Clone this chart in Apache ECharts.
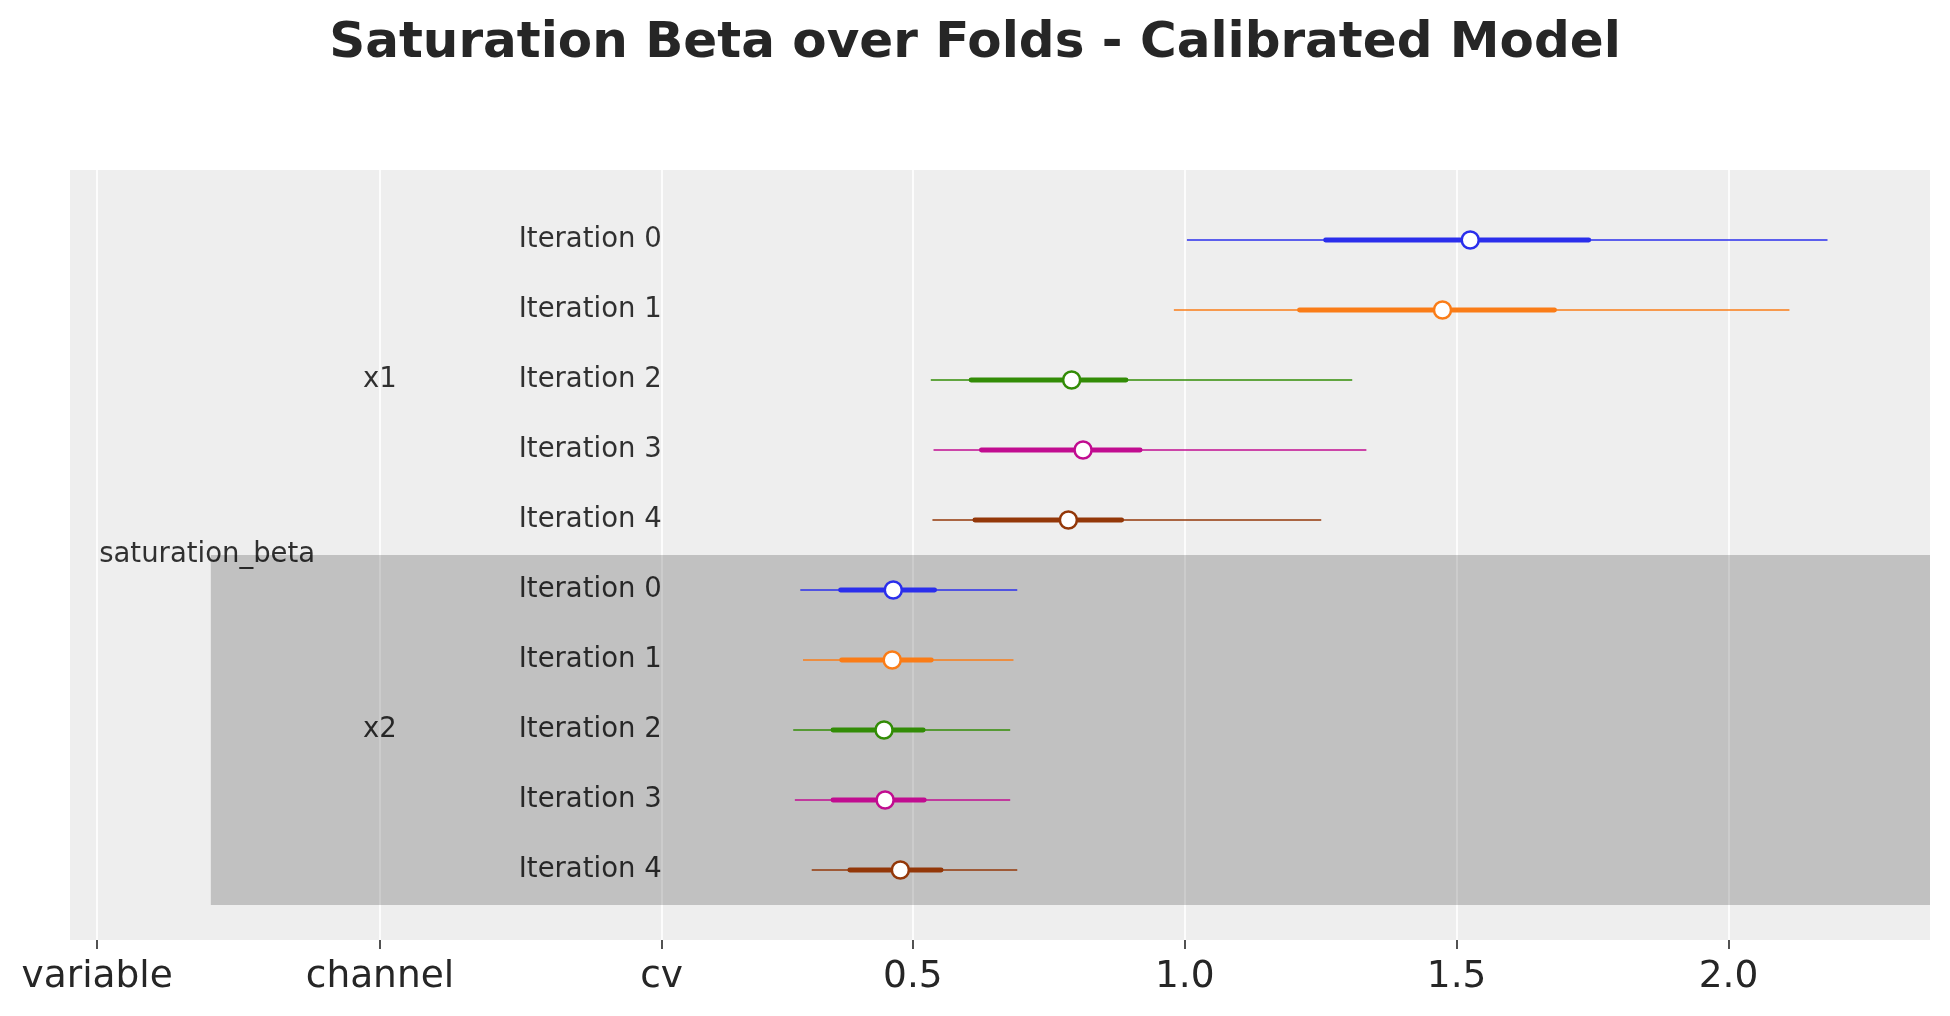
<!DOCTYPE html>
<html>
<head>
<meta charset="utf-8">
<title>Saturation Beta over Folds</title>
<script src="https://cdn.jsdelivr.net/npm/echarts@6/dist/echarts.min.js"></script>
<style>
  html, body { margin: 0; padding: 0; background: #fff; }
  #chart { width: 1950px; height: 1016px; }
</style>
</head>
<body>
<div id="chart"></div>
<script>
// one row per (channel, iteration), top to bottom
const rowNames = ['Iteration 0', 'Iteration 1', 'Iteration 2', 'Iteration 3', 'Iteration 4',
                  'Iteration 0', 'Iteration 1', 'Iteration 2', 'Iteration 3', 'Iteration 4'];
const rowIter = [0, 1, 2, 3, 4, 0, 1, 2, 3, 4];
const hdiLow   = [1.004, 0.980, 0.533, 0.538, 0.536, 0.293, 0.298, 0.280, 0.283, 0.314];
const hdiHigh  = [2.182, 2.112, 1.308, 1.334, 1.251, 0.692, 0.685, 0.679, 0.679, 0.692];
const iqrLow   = [1.259, 1.211, 0.607, 0.626, 0.614, 0.367, 0.369, 0.353, 0.353, 0.384];
const iqrHigh  = [1.743, 1.680, 0.892, 0.918, 0.884, 0.540, 0.534, 0.519, 0.521, 0.552];
const medians  = [1.525, 1.474, 0.792, 0.813, 0.786, 0.464, 0.462, 0.447, 0.449, 0.477];

const channels = ['x1', 'x2'];
const channelRows = [2, 7];
const variableName = 'saturation_beta';
const variableRow = 4.5;

// label columns sit on the x axis left of the data
const tickValues = [-1.0, -0.48, 0.038, 0.5, 1.0, 1.5, 2.0];
const tickLabels = ['variable', 'channel', 'cv', '0.5', '1.0', '1.5', '2.0'];
const colVariable = -1.0, colChannel = -0.48, colCv = 0.038;

const xMin = -1.05, xMax = 2.3705;
const yMin = -1, yMax = 10;
const bandX = -0.791;  // shaded x2 block starts here
const bandRows = [4.5, 9.5];

const colors = ['#2a2eec', '#fa7c17', '#328c06', '#c10c90', '#933708'];
const FONT = 'DejaVu Sans';

const chart = echarts.init(document.getElementById('chart'));

const lineData = rowNames.map(function (n, i) {
  return [i, hdiLow[i], hdiHigh[i], iqrLow[i], iqrHigh[i], rowIter[i]];
});
const medianData = rowNames.map(function (n, i) {
  return { value: [medians[i], i], itemStyle: { borderColor: colors[rowIter[i]] } };
});

function nearestLabel(v) {
  let best = 0;
  for (let i = 1; i < tickValues.length; i++) {
    if (Math.abs(tickValues[i] - v) < Math.abs(tickValues[best] - v)) best = i;
  }
  return tickLabels[best];
}

const option = {
  backgroundColor: '#ffffff',
  animation: false,
  title: {
    text: 'Saturation Beta over Folds - Calibrated Model',
    left: 'center',
    top: 14,
    textStyle: { fontFamily: FONT, fontSize: 50, fontWeight: 'bold', color: '#262626' }
  },
  grid: {
    left: 70, right: 20, top: 170, bottom: 76,
    show: true, backgroundColor: '#eeeeee', borderWidth: 0
  },
  xAxis: {
    type: 'value',
    position: 'bottom',
    min: xMin, max: xMax,
    axisLine: { show: false, onZero: false },
    axisTick: {
      show: true, customValues: tickValues, length: 9,
      lineStyle: { color: '#262626', width: 1.6 }
    },
    axisLabel: {
      customValues: tickValues,
      formatter: nearestLabel,
      fontFamily: FONT, fontSize: 37.5, color: '#262626', margin: 18
    },
    splitLine: { show: true, lineStyle: { color: '#ffffff', width: 1.6 } }
  },
  yAxis: {
    type: 'value',
    inverse: true,
    min: yMin, max: yMax,
    axisLine: { show: false },
    axisTick: { show: false },
    axisLabel: { show: false },
    splitLine: { show: false }
  },
  series: [
    {
      // row / group labels + shaded block for the second channel
      type: 'scatter',
      symbolSize: 0,
      z: 2,
      silent: true,
      data: rowNames.map(function (n, i) {
        return { value: [colCv, i], label: { show: true, position: 'left', distance: 0, formatter: n } };
      }).concat(channels.map(function (c, i) {
        return { value: [colChannel, channelRows[i]], label: { show: true, position: 'inside', formatter: c } };
      })).concat([
        { value: [colVariable, variableRow], label: { show: true, position: 'right', distance: 2, formatter: variableName } }
      ]),
      label: { fontFamily: FONT, fontSize: 27.5, color: '#000000' },
      markArea: {
        silent: true,
        itemStyle: { color: 'rgba(0,0,0,0.19)' },
        data: [[{ coord: [bandX, bandRows[0]] }, { coord: [xMax, bandRows[1]] }]]
      }
    },
    {
      type: 'custom',
      z: 3,
      data: lineData,
      encode: { x: [1, 2, 3, 4], y: 0 },
      renderItem: function (params, api) {
        const y = api.value(0);
        const a = api.coord([api.value(1), y]);
        const b = api.coord([api.value(2), y]);
        const c = api.coord([api.value(3), y]);
        const d = api.coord([api.value(4), y]);
        const col = colors[api.value(5)];
        return {
          type: 'group',
          children: [
            { type: 'line', shape: { x1: a[0], y1: a[1], x2: b[0], y2: b[1] },
              style: { stroke: col, lineWidth: 1.6 } },
            { type: 'line', shape: { x1: c[0], y1: c[1], x2: d[0], y2: d[1] },
              style: { stroke: col, lineWidth: 4.8, lineCap: 'round' } }
          ]
        };
      }
    },
    {
      type: 'scatter',
      z: 4,
      symbol: 'circle',
      symbolSize: 17,
      itemStyle: { color: '#ffffff', borderWidth: 2.5, opacity: 1 },
      data: medianData
    }
  ]
};

chart.setOption(option);
</script>
</body>
</html>
